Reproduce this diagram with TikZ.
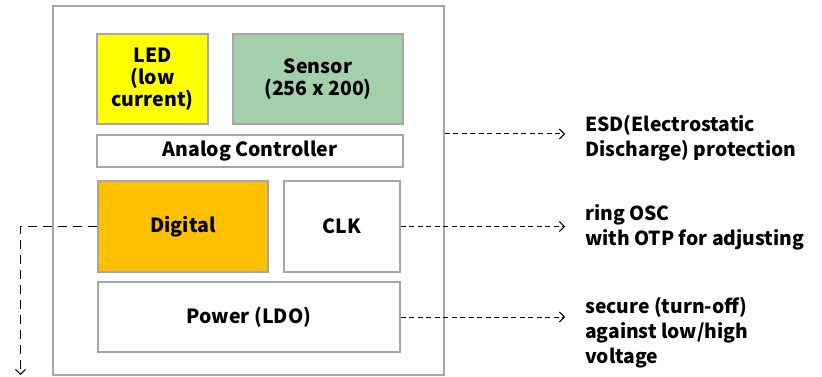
\documentclass[tikz,border=0pt]{standalone}
\usepackage{fontspec}
\setmainfont{Noto Sans CJK KR}
\usetikzlibrary{arrows.meta, positioning}

\definecolor{edgegray}{HTML}{A6A6A6}
\definecolor{ledyellow}{HTML}{FFFF00}
\definecolor{sensorgreen}{HTML}{A3D0AA}
\definecolor{digitalorange}{HTML}{FFC000}

\begin{document}
\begin{tikzpicture}[x=1pt, y=-1pt,
    blk/.style={draw=edgegray, line width=1.6pt, inner sep=0pt, align=center,
                font=\bfseries\fontsize{19.5}{22}\selectfont},
    note/.style={anchor=base west, inner sep=0pt, align=left,
                 font=\bfseries\fontsize{19.3}{25}\selectfont},
    link/.style={line width=1pt, dash pattern=on 5pt off 3.5pt,
                 -{Straight Barb[length=5pt,width=10pt]}}]
    \useasboundingbox (0,0) rectangle (822,377);

    % chip outline and the blocks inside it
    \node[blk, minimum width=391pt, minimum height=369pt] (chip) at (248.5,190.5) {};
    \node[blk, fill=ledyellow, minimum width=111pt, minimum height=90pt] (led) at (152.5,79) {LED\\(low\\current)};
    \node[blk, fill=sensorgreen, minimum width=170pt, minimum height=90pt] (sensor) at (318,79) {Sensor\\(256 x 200)};
    \node[blk, minimum width=306pt, minimum height=32pt] (analog) at (250,151) {Analog Controller};
    \node[blk, fill=digitalorange, minimum width=170pt, minimum height=91pt] (digital) at (183,226.5) {Digital};
    \node[blk, minimum width=116pt, minimum height=91pt] (clk) at (342,226.5) {CLK};
    \node[blk, minimum width=302pt, minimum height=70pt] (power) at (249,317) {Power (LDO)};

    % notes on the right (anchored on the last baseline)
    \node[note] (esd) at (585,156.5) {ESD(Electrostatic\\Discharge) protection};
    \node[note] (osc) at (585,245) {ring OSC\\with OTP for adjusting};
    \node[note] (secure) at (585,363) {secure (turn-off)\\against low/high\\voltage};

    \coordinate (esdend) at (565,134);
    \coordinate (oscend) at (565,226.5);
    \coordinate (secend) at (565,317);
    \coordinate (digout) at (20.5,375);

    \draw[link] (chip.east |- esdend) -- (esdend);
    \draw[link] (clk.east) -- (oscend);
    \draw[link] (power.east) -- (secend);
    \draw[link, dash pattern=on 9pt off 6pt] (digital.west) -| (digout);
\end{tikzpicture}
\end{document}
